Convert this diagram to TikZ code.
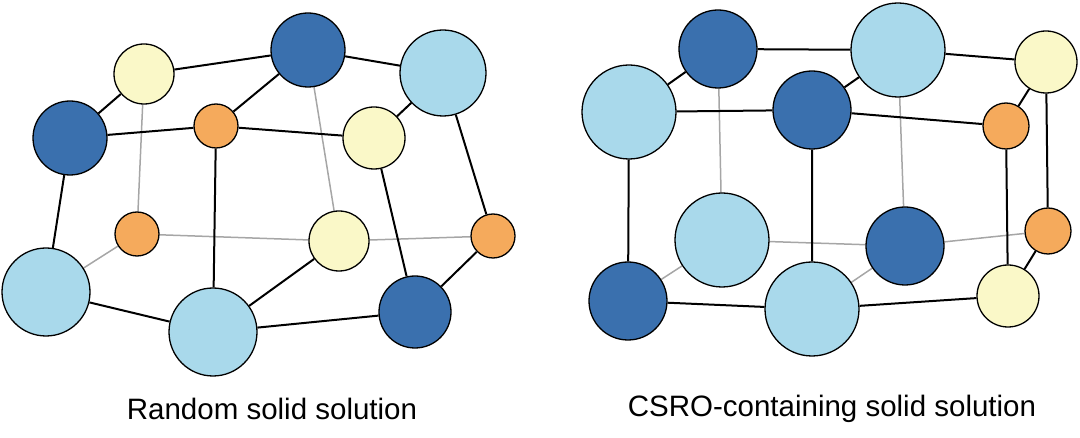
\documentclass[tikz,border=0pt]{standalone}
\usepackage{fontspec}
\setmainfont{Liberation Sans}
\usetikzlibrary{backgrounds}
\definecolor{dk}{HTML}{3A70AE}
\definecolor{lt}{HTML}{A9D9EB}
\definecolor{yl}{HTML}{FAF8C8}
\definecolor{og}{HTML}{F5AA5C}
\begin{document}
\begin{tikzpicture}[x=1pt,y=-1pt,
  at/.style={circle,draw=black,line width=1.3pt,inner sep=0pt,minimum size=#1},
  D/.style={at=74pt,fill=dk},
  L/.style={at=90pt,fill=lt},
  Y/.style={at=60pt,fill=yl},
  O/.style={at=44pt,fill=og},
  bk/.style={line width=2pt,black},
  gr/.style={line width=1.5pt,gray!70},
  lab/.style={font=\fontsize{29.5}{32}\selectfont}]
\useasboundingbox (0,0) rectangle (1080,438);
% left
\node[Y] (A) at (144,74) {};
\node[D] (B) at (308,50) {};
\node[L,minimum size=86pt] (C) at (443,73) {};
\node[D] (D) at (70,138) {};
\node[O] (E) at (216,126) {};
\node[Y,minimum size=62pt] (F) at (374,138) {};
\node[O] (G) at (137,234) {};
\node[Y] (H) at (339,241) {};
\node[O] (I) at (493,236) {};
\node[L,minimum size=88pt] (J) at (46,292) {};
\node[L,minimum size=88pt] (K) at (213,332) {};
\node[D,minimum size=72pt] (Lq) at (415,312) {};
% right
\node[D,minimum size=78pt] (a) at (718,49) {};
\node[L,minimum size=94pt] (b) at (898,50) {};
\node[Y,minimum size=62pt] (c) at (1046,62) {};
\node[L,minimum size=94pt] (d) at (629,112) {};
\node[D,minimum size=78pt] (e) at (812,110) {};
\node[O,minimum size=46pt] (f) at (1006,126) {};
\node[L,minimum size=94pt] (g) at (722,240) {};
\node[D,minimum size=78pt] (h) at (905,246) {};
\node[O,minimum size=46pt] (i) at (1048,231) {};
\node[D,minimum size=78pt] (j) at (628,301) {};
\node[L,minimum size=94pt] (k) at (812,309) {};
\node[Y,minimum size=62pt] (l) at (1008,296) {};
\begin{scope}[on background layer]
\draw[gr] (A)--(G) (G)--(J) (G)--(H) (H)--(I) (B)--(H);
\draw[bk] (A)--(B) (B)--(C) (A)--(D) (D)--(E) (E)--(B) (E)--(F) (F)--(C) (C)--(I)
  (D)--(J) (J)--(K) (E)--(K) (K)--(H) (K)--(Lq) (F)--(Lq) (Lq)--(I);
\draw[gr] (a)--(g) (b)--(h) (g)--(h) (h)--(i) (g)--(j) (h)--(k);
\draw[bk] (a)--(b) (b)--(c) (a)--(d) (e)--(b) (d)--(e) (e)--(f) (f)--(c) (c)--(i)
  (i)--(l) (f)--(l) (d)--(j) (e)--(k) (j)--(k) (k)--(l);
\end{scope}
\node[lab] (t1) at (272,409) {Random solid solution};
\node[lab] (t2) at (832,409) {CSRO-containing solid solution};
\end{tikzpicture}
\end{document}
